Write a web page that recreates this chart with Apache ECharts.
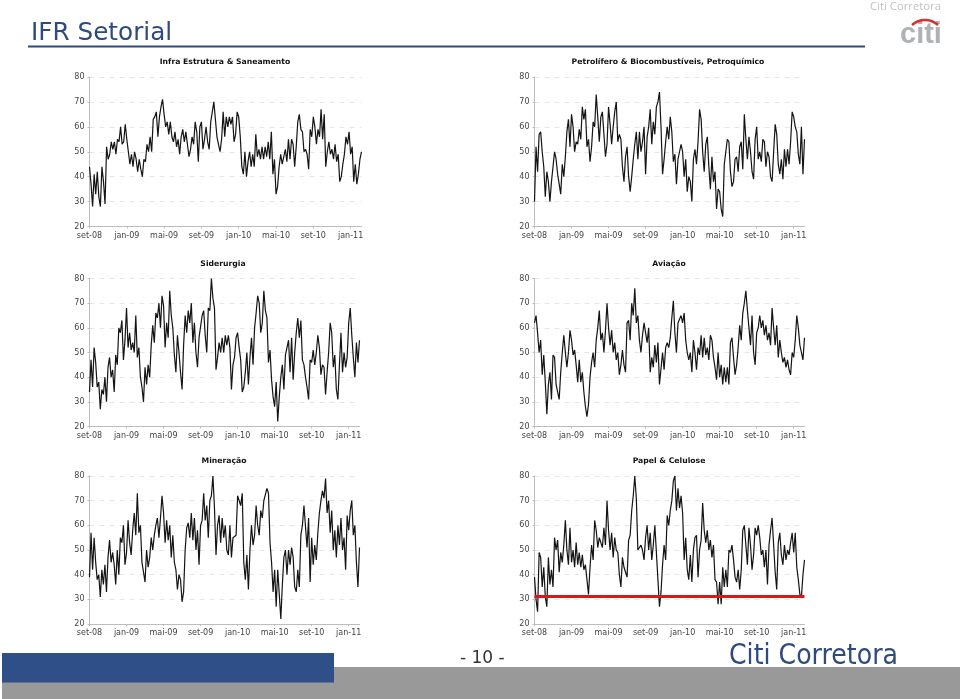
<!DOCTYPE html>
<html><head><meta charset="utf-8">
<style>html,body{margin:0;padding:0;background:#fff}#c{width:960px;height:699px}</style>
<script src="https://cdn.jsdelivr.net/npm/echarts@6/dist/echarts.min.js"></script>
</head><body><div id="c"></div>
<script>
const tickLabels=['set-08','jan-09','mai-09','set-09','jan-10','mai-10','set-10','jan-11'];
const yTicks=[20,30,40,50,60,70,80];
const titles=['Infra Estrutura & Saneamento','Petrolífero & Biocombustíveis, Petroquímico','Siderurgia','Aviação','Mineração','Papel & Celulose'];
const infra=[44,37,28,41,33,42,32,28,44,38,29,52,47,49,54,51,54,49,55,54,60,53,54,61,
55,50,45,49,44,50,47,42,47,43,40,47,46,53,50,56,50,63,64,66,56,64,68,71,
65,60,62,57,62,56,54,58,52,55,49,56,59,54,58,53,48,51,56,53,62,58,46,60,
62,51,55,60,54,51,62,66,70,70,56,53,50,55,66,56,64,60,64,61,64,54,57,66,
64,56,44,41,50,40,46,50,44,49,44,57,48,51,47,52,47,52,48,54,47,58,41,47,
33,36,44,49,45,48,51,46,55,47,55,53,44,52,62,65,59,58,50,51,49,43,59,56,
64,60,53,59,56,67,55,65,44,50,54,49,51,47,53,46,49,38,40,45,49,56,53,58,
49,52,38,45,37,41,47,50];
const petro=[30,52,42,57,58,50,44,32,42,38,30,38,44,50,47,41,37,33,45,40,48,58,63,52,
65,60,50,54,53,59,55,68,63,67,52,55,46,52,62,60,73,64,54,64,66,57,48,53,
68,61,53,60,66,70,54,57,55,44,38,48,52,40,34,40,47,53,58,47,58,50,54,60,
41,56,60,67,53,62,57,68,70,74,60,41,47,54,60,55,64,58,46,49,37,47,50,53,
50,40,47,34,40,38,30,47,51,45,54,67,63,50,42,53,56,44,35,48,38,42,27,35,
34,27,24,45,50,55,54,42,36,38,47,48,42,52,54,43,65,55,47,56,50,42,39,55,
60,47,50,46,55,54,44,50,48,40,38,50,61,57,45,41,47,39,51,44,51,45,54,66,
64,60,58,49,45,60,41,55];
const siderurgia=[34,47,36,52,46,36,38,27,35,33,40,30,44,48,40,43,34,49,45,60,58,63,47,55,
68,52,58,51,54,50,65,48,52,40,36,30,44,37,45,40,53,61,54,66,64,70,60,73,
69,52,62,56,75,65,60,49,42,57,50,42,35,53,65,58,67,62,70,54,62,50,44,56,
56,65,67,57,50,68,67,80,72,68,43,48,54,50,56,50,57,53,57,52,35,45,48,56,
58,52,47,34,36,42,50,37,48,56,45,60,66,73,70,58,62,75,67,64,46,51,39,32,
28,38,22,32,40,45,35,49,52,55,42,56,39,50,58,64,56,63,47,45,40,36,31,47,
46,51,45,50,57,52,41,45,44,33,42,50,62,58,44,49,35,31,45,58,42,50,44,48,
62,68,57,48,40,54,46,55];
const aviacao=[62,65,58,50,55,41,49,38,25,37,42,31,49,48,37,34,31,42,50,57,50,44,50,59,
55,49,51,45,38,47,38,42,34,28,24,29,40,46,50,44,55,60,67,55,58,50,59,70,
60,53,59,50,54,47,50,41,45,51,45,42,62,63,55,70,65,76,62,65,55,50,57,62,
62,54,60,42,48,44,53,46,54,37,37,50,43,52,54,52,56,64,71,58,50,62,62,65,
62,66,55,50,47,50,42,55,50,43,52,49,57,48,56,49,52,47,57,55,48,44,39,50,
40,45,37,44,38,44,37,54,56,48,41,45,52,61,55,66,70,75,67,60,53,65,50,45,
58,60,65,60,63,57,61,55,58,53,68,60,53,61,48,55,50,46,48,44,47,43,41,50,
48,55,65,60,53,50,47,56];
const mineracao=[39,57,42,55,45,38,40,31,42,36,44,33,47,54,45,49,44,36,50,40,55,53,60,44,
49,62,53,48,58,65,56,73,57,60,45,41,37,50,43,47,55,50,56,60,63,55,63,72,
65,53,62,54,60,47,56,45,42,34,40,38,29,33,50,59,61,55,65,54,63,50,58,44,
60,62,73,62,68,55,70,72,80,67,48,60,64,53,63,55,60,50,48,60,47,55,55,56,
72,72,68,73,45,38,48,34,50,60,52,56,68,60,56,66,63,70,70,75,73,53,45,33,
42,27,42,32,22,36,47,50,40,50,44,51,47,35,33,42,35,56,60,68,68,51,63,37,
55,44,52,46,57,65,70,74,71,79,65,70,57,66,50,58,47,60,52,63,50,55,42,64,
58,66,70,56,60,45,35,51];
const papel=[39,30,25,49,47,35,43,31,27,47,36,42,35,55,50,54,41,49,45,52,62,50,44,59,
45,50,43,53,44,49,43,48,42,44,38,32,43,52,46,62,58,51,55,53,51,59,52,70,
58,50,57,47,55,50,49,40,35,47,43,41,39,54,56,66,72,80,71,50,51,52,50,46,
55,60,50,57,46,52,60,60,38,27,33,44,52,46,64,60,66,70,78,80,66,75,67,72,
65,46,55,42,38,48,37,50,55,56,39,50,54,69,58,53,58,50,54,47,52,38,37,28,
37,28,43,35,42,35,50,49,52,46,39,37,42,34,42,58,60,52,44,59,52,42,48,59,
56,60,55,48,50,43,50,36,52,58,63,52,41,34,53,57,48,44,52,46,50,48,53,57,
49,57,43,38,32,31,40,46];
const seriesValues=[infra,petro,siderurgia,aviacao,mineracao,papel];
const supportLevel=31.3;
const pointsPerTick=24;
const categories=infra.map((_,i)=>i%pointsPerTick===0?tickLabels[i/pointsPerTick]:'');
const boxes=[[89.5,77,272,149.5],[534.5,77,270,149.5],[89.5,278.5,270,148],[534.5,278.5,270,148],[89.5,476,270,148],[534.5,476,270,148]];
const titleCenters=[[225,58.5],[668,58.5],[223,260],[669,260],[224,457.5],[669,457.5]];
const blue='#2f4a7e';
const chart=echarts.init(document.getElementById('c'),null,{renderer:'canvas'});
chart.setOption({
 animation:false,backgroundColor:'#fff',
 title:titles.map((t,i)=>({text:t,left:titleCenters[i][0],top:titleCenters[i][1],textAlign:'center',padding:0,
   textStyle:{fontFamily:'DejaVu Sans',fontWeight:'bold',fontSize:7.7,color:'#111'}})),
 grid:boxes.map(b=>({left:b[0],top:b[1],width:b[2],height:b[3]})),
 xAxis:boxes.map((b,i)=>({type:'category',gridIndex:i,data:categories,boundaryGap:false,
   axisLine:{lineStyle:{color:'#bdbdbd',width:1}},
   axisTick:{interval:pointsPerTick-1,length:2,lineStyle:{color:'#bdbdbd'}},
   axisLabel:{interval:pointsPerTick-1,margin:5,fontFamily:'DejaVu Sans',fontSize:8,color:'#444'},
   splitLine:{show:false}})),
 yAxis:boxes.map((b,i)=>({type:'value',gridIndex:i,min:yTicks[0],max:yTicks[yTicks.length-1],interval:10,
   axisLine:{show:true,lineStyle:{color:'#bdbdbd',width:1}},
   axisTick:{show:true,length:2,lineStyle:{color:'#bdbdbd'}},
   axisLabel:{margin:5,fontFamily:'DejaVu Sans',fontSize:8,color:'#444'},
   splitLine:{show:true,lineStyle:{color:'#e6e6e6',type:[5,5],width:1}}})),
 series:seriesValues.map((d,i)=>({type:'line',xAxisIndex:i,yAxisIndex:i,data:d,symbol:'none',
   lineStyle:{color:'#141414',width:1.2},silent:true,
   markLine:i===5?{silent:true,symbol:'none',label:{show:false},lineStyle:{color:'#e0141c',width:3,type:'solid'},data:[{yAxis:supportLevel}]}:undefined})),
 graphic:[
  {type:'text',left:31,top:21,style:{text:'IFR Setorial',font:'24.7px "DejaVu Sans"',fill:blue}},
  {type:'rect',shape:{x:28,y:45.5,width:837,height:2},style:{fill:blue}},
  {type:'text',left:870,top:1,style:{text:'Citi Corretora',font:'11.3px "Open Sans"',fill:'#c2c2c2'}},
  {type:'text',left:900,top:20,style:{text:'citi',font:'bold 29px "Liberation Sans"',fill:'#adb2b5'}},
  {type:'arc',shape:{cx:925,cy:39.4,r:19.4,startAngle:-2.306,endAngle:-0.836},style:{stroke:'#d6322e',lineWidth:2.5,fill:'none'}},
  {type:'rect',shape:{x:2,y:667,width:958,height:32},style:{fill:'#999'},z:1},
  {type:'rect',shape:{x:2,y:653,width:332,height:29.5},style:{fill:'#2f4f88'},z:2},
  {type:'text',left:460,top:650,z:2,style:{text:'- 10 -',font:'17px "DejaVu Sans"',fill:'#333'}},
  {type:'text',x:729,y:642,scaleX:0.87,z:3,style:{text:'Citi Corretora',font:'29px "DejaVu Sans"',fill:blue}}
 ]
});
</script></body></html>
